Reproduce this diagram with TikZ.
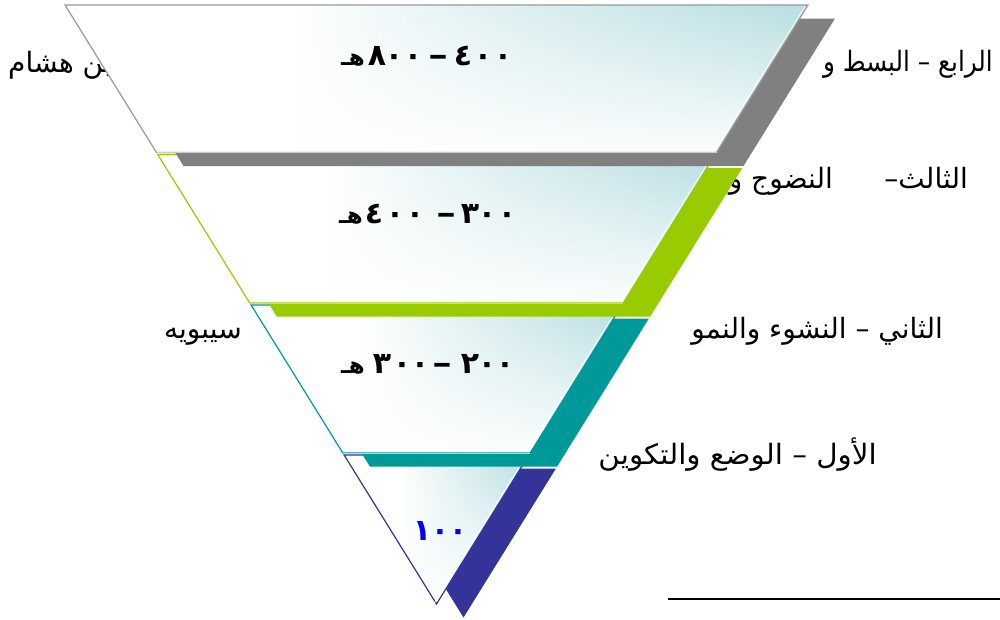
\documentclass[tikz,border=0pt]{standalone}
\usepackage{fontspec}
\usepackage{graphicx}
\usetikzlibrary{fadings}
\TeXXeTstate=1
\newfontfamily\arabicfont[Script=Arabic]{DejaVu Sans}
\definecolor{bandc}{HTML}{B8DEE2}
\definecolor{sgrey}{HTML}{808080}
\definecolor{lgrey}{HTML}{999999}
\definecolor{sgreen}{HTML}{99CC00}
\definecolor{steal}{HTML}{009999}
\definecolor{sblue}{HTML}{333399}
\definecolor{numblue}{HTML}{0000FF}
\pgfdeclarehorizontalshading{bandshade}{100bp}{color(0bp)=(white); color(25bp)=(white); color(40bp)=(white); color(56bp)=(bandc!50!white); color(75bp)=(bandc); color(100bp)=(bandc)}
\tikzfading[name=bottomwhite, top color=transparent!100, middle color=transparent!70, bottom color=transparent!5]
\newcommand\ardash{\scalebox{1.3}[1]{–}}
\newcommand\heh{{\fontsize{23}{25}\selectfont هـ}}
% #1 shadow colour, #2 outline colour, #3 y top, #4 x top-left, #5 x top-right, #6 y bottom, #7 x bottom-right, #8 x bottom-left
\newcommand\myband[8]{%
  \fill[#1] ([shift={(27,13.5)}]#4,#3) -- ([shift={(27,13.5)}]#5,#3) -- ([shift={(27,13.5)}]#7,#6) -- ([shift={(27,13.5)}]#8,#6) -- cycle;
  \shade[shading=bandshade] (#4,#3) -- (#5,#3) -- (#7,#6) -- (#8,#6) -- cycle;
  \fill[white, path fading=bottomwhite] (#4,#3) -- (#5,#3) -- (#7,#6) -- (#8,#6) -- cycle;
  \draw[#2, line width=1.2] (#4,#3) -- (#5,#3) -- (#7,#6) -- (#8,#6) -- cycle;
  \draw[gray!40, line width=1] (#8,#6) -- (#7,#6);
  \draw[white, line width=0.7] ([shift={(-3,1.5)}]#5,#3) -- ([shift={(-2.2,-1)}]#7,#6);
}
\tikzset{
  lbl/.style={font=\arabicfont\fontsize{28}{32}\selectfont, inner sep=0pt, anchor=base east},
  dig/.style={font=\arabicfont\bfseries\fontsize{30}{32}\selectfont, inner sep=0pt, anchor=base},
}
\begin{document}
\begin{tikzpicture}[x=1pt,y=-1pt]
\useasboundingbox (0,0) rectangle (1000,619);
\fill[white] (0,0) rectangle (1000,619);
% side labels (drawn first, partly hidden by the funnel)
\node[lbl] (r4a) at (993,71) {\scalebox{0.88}[1]{\beginR الرابع – البسط و\endR}};
\node[lbl, anchor=base west] (r4b) at (8,72) {\beginR ابن هشام\endR};
\node[lbl] (r3a) at (968,188) {\beginR الثالث\kern0pt–\endR};
\node[lbl] (r3b) at (833,188) {\beginR النضوج و\endR};
\node[lbl] (r2a) at (943,338) {\beginR الثاني – النشوء والنمو\endR};
\node[lbl] (r2b) at (242,338) {\beginR سيبويه\endR};
\node[lbl] (r1) at (877,464) {\scalebox{1.05}[1]{\beginR الأول – الوضع والتكوين\endR}};
% bands, bottom first
\myband{sblue}{sblue}{455}{344.1}{528.9}{604}{436.5}{436.5}
\myband{steal}{steal}{305}{251.1}{621.9}{453}{530.15}{342.85}
\myband{sgreen}{sgreen}{154.5}{157.7}{715.3}{303}{623.2}{249.8}
\myband{sgrey}{lgrey}{5}{65}{808}{152.5}{716.5}{156.5}
% numbers
\foreach \x/\c [count=\i] in {353/\heh,377/٨,394/٠,413/٠,438/\ardash,463/٤,483/٠,503/٠}
  \node[dig] (da\i) at (\x,65) {\c};
\foreach \x/\c [count=\i] in {351/\heh,374/٤,395/٠,415/٠,446/\ardash,470/٣,487/٠,507/٠}
  \node[dig] (db\i) at (\x,223) {\c};
\foreach \x/\c [count=\i] in {353/\heh,382/٣,402/٠,420/٠,442/\ardash,470/٢,487/٠,505/٠}
  \node[dig] (dc\i) at (\x,373) {\c};
\foreach \x/\c [count=\i] in {422/١,440/٠,458/٠}
  \node[dig, text=numblue] (dd\i) at (\x,540) {\c};
% rule at the bottom right
\coordinate (hl1) at (668,599);
\coordinate (hl2) at (1000,599);
\draw[line width=2] (hl1) -- (hl2);
\end{tikzpicture}
\end{document}
